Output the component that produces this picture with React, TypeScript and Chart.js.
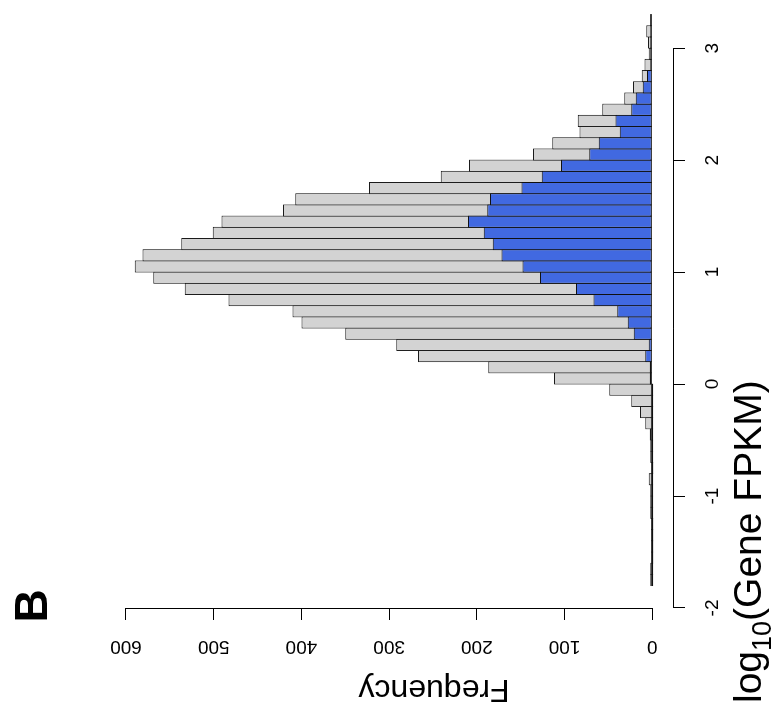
import React, { useEffect, useRef } from "react";
import { Chart, registerables } from "chart.js";

Chart.register(...registerables);

// Histogram bin mid-points, log10(Gene FPKM), bin width 0.1
const BIN_MIDS = [
  -1.75, -1.65, -1.55, -1.45, -1.35, -1.25, -1.15, -1.05, -0.95, -0.85,
  -0.75, -0.65, -0.55, -0.45, -0.35, -0.25, -0.15, -0.05, 0.05, 0.15,
  0.25, 0.35, 0.45, 0.55, 0.65, 0.75, 0.85, 0.95, 1.05, 1.15,
  1.25, 1.35, 1.45, 1.55, 1.65, 1.75, 1.85, 1.95, 2.05, 2.15,
  2.25, 2.35, 2.45, 2.55, 2.65, 2.75, 2.85, 2.95, 3.05, 3.15,
  3.25,
];

// All genes (light grey histogram)
const ALL_GENES = [
  1, 2, 0, 0, 0, 0, 1, 1, 1, 4,
  0, 2, 1, 3, 8, 14, 24, 49, 112, 187,
  267, 292, 350, 400, 410, 483, 533, 569, 590, 581,
  537, 501, 491, 421, 407, 323, 241, 209, 136, 114,
  83, 85, 57, 32, 22, 12, 9, 4, 5, 7,
  2,
];

// Subset of genes (blue histogram)
const SUBSET_GENES = [
  0, 0, 0, 0, 0, 0, 0, 0, 0, 0,
  0, 0, 0, 0, 0, 0, 0, 0, 3, 3,
  8, 4, 21, 28, 40, 67, 87, 128, 148, 172,
  182, 192, 210, 188, 185, 149, 126, 104, 72, 61,
  37, 42, 24, 19, 11, 6, 2, 2, 1, 1,
  1,
];

const LOG_TICKS = [-2, -1, 0, 1, 2, 3];
const LOG_TICK_LABELS = ["-2", "-1", "0", "1", "2", "3"];
const FREQ_TICKS = [0, 100, 200, 300, 400, 500, 600];
const FREQ_TICK_LABELS = ["0", "100", "200", "300", "400", "500", "600"];

const X_TITLE_MAIN = "log";
const X_TITLE_SUB = "10";
const X_TITLE_REST = "(Gene FPKM)";
const Y_TITLE = "Frequency";
const PANEL_LABEL = "B";

const FONT = '"Liberation Sans", Arial, sans-serif';

export default function App() {
  const ref = useRef<HTMLCanvasElement>(null);

  useEffect(() => {
    const canvas = ref.current;
    if (!canvas) return;

    const rAxes = {
      id: "rAxes",
      afterDraw(chart: any) {
        const { ctx, chartArea: ca, scales } = chart;
        const xs = scales.x;
        const ys = scales.y;
        ctx.save();
        ctx.strokeStyle = "#000";
        ctx.lineWidth = 1;
        ctx.beginPath();
        const yb = Math.round(ca.bottom) + 0.5;
        ctx.moveTo(xs.getPixelForValue(LOG_TICKS[0]), yb);
        ctx.lineTo(xs.getPixelForValue(LOG_TICKS[LOG_TICKS.length - 1]), yb);
        const xl = Math.round(ca.left) - 0.5;
        ctx.moveTo(xl, ys.getPixelForValue(FREQ_TICKS[0]));
        ctx.lineTo(xl, ys.getPixelForValue(FREQ_TICKS[FREQ_TICKS.length - 1]));
        ctx.stroke();

        ctx.fillStyle = "#000";
        // x axis title: log10(Gene FPKM)
        const S = 39;
        const base = 761;
        let cx = 13;
        ctx.textAlign = "left";
        ctx.textBaseline = "alphabetic";
        ctx.font = `${S}px ${FONT}`;
        ctx.fillText(X_TITLE_MAIN, cx, base);
        cx += ctx.measureText(X_TITLE_MAIN).width;
        ctx.font = `${Math.round(S * 0.7)}px ${FONT}`;
        ctx.fillText(X_TITLE_SUB, cx, base + S * 0.25);
        cx += ctx.measureText(X_TITLE_SUB).width;
        ctx.font = `${S}px ${FONT}`;
        ctx.fillText(X_TITLE_REST, cx, base);

        // y axis title: Frequency
        ctx.save();
        ctx.translate(36, 434);
        ctx.rotate(-Math.PI / 2);
        ctx.textAlign = "center";
        ctx.textBaseline = "alphabetic";
        ctx.font = `32px ${FONT}`;
        ctx.fillText(Y_TITLE, 0, 0);
        ctx.restore();

        // panel label
        ctx.textAlign = "center";
        ctx.textBaseline = "alphabetic";
        ctx.font = `bold 46px ${FONT}`;
        ctx.fillText(PANEL_LABEL, 110, 47);
        ctx.restore();
      },
    };

    const chart = new Chart(canvas, {
      type: "bar",
      data: {
        datasets: [
          {
            label: "subset",
            data: BIN_MIDS.map((x, i) => ({ x, y: SUBSET_GENES[i] })),
            backgroundColor: "#4169E1",
            borderColor: "#111",
            borderWidth: 1,
            borderSkipped: false,
            minBarLength: 2,
            barPercentage: 1.09,
            categoryPercentage: 1,
            grouped: false,
          },
          {
            label: "all",
            data: BIN_MIDS.map((x, i) => ({ x, y: ALL_GENES[i] })),
            backgroundColor: "#D3D3D3",
            borderColor: "#1a1a1a",
            borderWidth: 1,
            borderSkipped: false,
            minBarLength: 2,
            barPercentage: 1.09,
            categoryPercentage: 1,
            grouped: false,
          },
        ],
      },
      options: {
        animation: false,
        responsive: false,
        devicePixelRatio: 1,
        events: [],
        layout: { padding: { top: 114, left: 0, right: 0, bottom: 0 } },
        plugins: {
          legend: { display: false },
          tooltip: { enabled: false },
          title: { display: false },
        },
        scales: {
          x: {
            type: "linear",
            position: "bottom",
            min: -2.0,
            max: 3.43,
            offset: false,
            afterBuildTicks: (s: any) => {
              s.ticks = LOG_TICKS.map((v) => ({ value: v }));
            },
            afterFit: (s: any) => {
              s.height = 100;
            },
            ticks: {
              autoSkip: false,
              maxRotation: 0,
              minRotation: 0,
              padding: 16,
              color: "#000",
              font: { family: FONT, size: 19 },
              callback: (_v: any, i: number) => LOG_TICK_LABELS[i],
            },
            grid: {
              display: true,
              offset: false,
              drawOnChartArea: false,
              drawTicks: true,
              tickLength: 12,
              color: "#000",
              lineWidth: 1,
            },
            border: { display: false },
          },
          y: {
            type: "linear",
            position: "left",
            min: -23.6,
            max: 613.6,
            afterBuildTicks: (s: any) => {
              s.ticks = FREQ_TICKS.map((v) => ({ value: v }));
            },
            afterFit: (s: any) => {
              s.width = 108;
            },
            ticks: {
              autoSkip: false,
              minRotation: 90,
              maxRotation: 90,
              crossAlign: "center",
              padding: 10,
              color: "#000",
              font: { family: FONT, size: 19 },
              callback: (_v: any, i: number) => FREQ_TICK_LABELS[i],
            },
            grid: {
              display: true,
              drawOnChartArea: false,
              drawTicks: true,
              tickLength: 12,
              color: "#000",
              lineWidth: 1,
            },
            border: { display: false },
          },
        },
      },
      plugins: [rAxes],
    } as any);

    return () => chart.destroy();
  }, []);

  return (
    <div
      style={{
        position: "fixed",
        left: 0,
        top: 0,
        width: 773,
        height: 716,
        overflow: "hidden",
        background: "#fff",
      }}
    >
      <canvas
        ref={ref}
        width={716}
        height={773}
        style={{
          position: "absolute",
          left: 0,
          top: 0,
          width: 716,
          height: 773,
          transformOrigin: "0 0",
          transform: "translate(0px, 716px) rotate(-90deg)",
        }}
      />
    </div>
  );
}
